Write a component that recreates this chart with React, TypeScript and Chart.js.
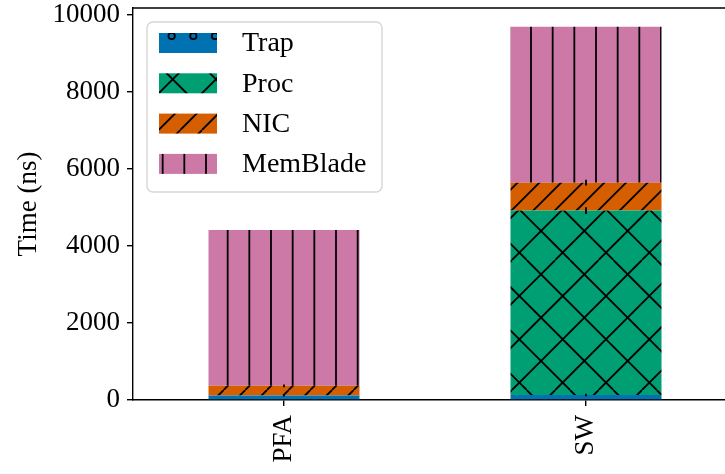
import React, { useEffect, useRef } from "react";
import { Chart, registerables } from "chart.js";

Chart.register(...registerables);

// ---- data ----
const categories = ["PFA", "SW"];
const seriesNames = ["Trap", "Proc", "NIC", "MemBlade"];
const trapValues = [120, 130];
const procValues = [0, 4790];
const nicValues = [250, 725];
const memBladeValues = [4046, 4052];
const trapErrors = [10, 10];
const procErrors = [0, 65];
const nicErrors = [15, 55];
const memBladeErrors = [0, 0];
const yTickValues = [0, 2000, 4000, 6000, 8000, 10000];
const yAxisTitle = "Time (ns)";

const seriesValues = [trapValues, procValues, nicValues, memBladeValues];
const seriesErrors = [trapErrors, procErrors, nicErrors, memBladeErrors];
const seriesColors = ["#0072B2", "#009E73", "#D55E00", "#CC79A7"];
const seriesHatches = ["o", "x", "/", "|"];

const FONT = "'Liberation Serif', 'DejaVu Serif', serif";
const TILE = 130;
const P = TILE / 6;

function makePattern(ctx: CanvasRenderingContext2D, color: string, kind: string) {
  const c = document.createElement("canvas");
  c.width = TILE;
  c.height = TILE;
  const g = c.getContext("2d")!;
  g.fillStyle = color;
  g.fillRect(0, 0, TILE, TILE);
  g.strokeStyle = "#000";
  g.lineWidth = 1.8;
  g.beginPath();
  if (kind === "|") {
    for (let k = -1; k <= 6; k++) {
      const x = 11 + k * P;
      g.moveTo(x, 0);
      g.lineTo(x, TILE);
    }
  } else if (kind === "/") {
    for (let k = -3; k <= 15; k++) {
      const cc = 7 + k * P;
      g.moveTo(cc, 0);
      g.lineTo(cc - TILE, TILE);
    }
  } else if (kind === "x") {
    for (let k = -3; k <= 8; k++) {
      const cc = 35.3 + k * 2 * P;
      g.moveTo(cc, 0);
      g.lineTo(cc - TILE, TILE);
    }
    for (let k = -6; k <= 5; k++) {
      const cc = 6.7 + k * 2 * P;
      g.moveTo(cc, 0);
      g.lineTo(cc + TILE, TILE);
    }
  }
  g.stroke();
  if (kind === "o") {
    for (let r = -2; r <= 6; r++) {
      const y = 36 + r * P;
      const x0 = 20 + (Math.abs(r) % 2 === 1 ? P / 2 : 0);
      for (let k = -2; k <= 7; k++) {
        const x = x0 + k * P;
        g.beginPath();
        g.arc(x, y, 3.2, 0, Math.PI * 2);
        g.stroke();
      }
    }
  }
  return ctx.createPattern(c, "repeat")!;
}

export default function App() {
  const ref = useRef<HTMLCanvasElement | null>(null);

  useEffect(() => {
    const canvas = ref.current!;
    const ctx = canvas.getContext("2d")!;
    const patterns = seriesColors.map((col, i) => makePattern(ctx, col, seriesHatches[i]));

    const extras = {
      id: "extras",
      afterDatasetsDraw(chart: any) {
        const c = chart.ctx;
        const y = chart.scales.y;
        c.save();
        c.strokeStyle = "#000";
        c.lineWidth = 1.8;
        for (let j = 0; j < categories.length; j++) {
          let cum = 0;
          for (let i = 0; i < seriesNames.length; i++) {
            cum += seriesValues[i][j];
            const e = seriesErrors[i][j];
            if (e <= 0) continue;
            const meta = chart.getDatasetMeta(i);
            const x = meta.data[j].x;
            c.beginPath();
            c.moveTo(x, y.getPixelForValue(cum - e) + 0.8);
            c.lineTo(x, y.getPixelForValue(cum + e) - 0.8);
            c.stroke();
          }
        }
        c.restore();
      },
      afterDraw(chart: any) {
        const c = chart.ctx;
        const a = chart.chartArea;
        c.save();
        // top and right spines
        c.strokeStyle = "#000";
        c.lineWidth = 1.4;
        c.beginPath();
        c.moveTo(a.left, a.top);
        c.lineTo(a.right, a.top);
        c.lineTo(a.right, a.bottom);
        c.stroke();
        // y title
        c.fillStyle = "#000";
        c.font = `27px ${FONT}`;
        c.textAlign = "center";
        c.textBaseline = "middle";
        c.translate(29, (a.top + a.bottom) / 2);
        c.rotate(-Math.PI / 2);
        c.fillText(yAxisTitle, 0, 0);
        c.restore();

        // legend
        c.save();
        const lx = 147, ly = 22, lw = 235, lh = 170, rad = 6;
        c.beginPath();
        c.moveTo(lx + rad, ly);
        c.arcTo(lx + lw, ly, lx + lw, ly + lh, rad);
        c.arcTo(lx + lw, ly + lh, lx, ly + lh, rad);
        c.arcTo(lx, ly + lh, lx, ly, rad);
        c.arcTo(lx, ly, lx + lw, ly, rad);
        c.closePath();
        c.fillStyle = "rgba(255,255,255,0.8)";
        c.fill();
        c.strokeStyle = "rgba(204,204,204,0.8)";
        c.lineWidth = 1.4;
        c.stroke();
        c.font = `28px ${FONT}`;
        c.textAlign = "left";
        c.textBaseline = "middle";
        for (let i = 0; i < seriesNames.length; i++) {
          const cy = 43 + i * 40.3;
          c.fillStyle = patterns[i];
          c.fillRect(159, cy - 10, 58, 20);
          c.fillStyle = "#000";
          c.fillText(seriesNames[i], 242, cy + 1);
        }
        c.restore();
      },
    };

    const axisFont = { family: FONT, size: 27 };
    const chart = new Chart(ctx, {
      type: "bar",
      data: {
        labels: categories,
        datasets: seriesNames.map((name, i) => ({
          label: name,
          data: seriesValues[i],
          backgroundColor: patterns[i],
          borderWidth: 0,
          barPercentage: 0.5,
          categoryPercentage: 1,
        })),
      },
      options: {
        responsive: false,
        animation: false,
        layout: { padding: { left: 0, right: 23, top: 8, bottom: 0 } },
        plugins: { legend: { display: false }, tooltip: { enabled: false } },
        scales: {
          x: {
            stacked: true,
            grid: { offset: false, drawOnChartArea: false, drawTicks: true, tickLength: 6, color: "#000", lineWidth: 1.4 },
            border: { display: true, color: "#000", width: 1.4 },
            ticks: { color: "#000", font: axisFont, minRotation: 90, maxRotation: 90, padding: 9 },
            afterFit: (s: any) => {
              s.height = 74;
              s.paddingLeft = 0;
              s.paddingRight = 0;
            },
          },
          y: {
            stacked: true,
            min: 0,
            max: 10182,
            afterBuildTicks: (s: any) => {
              s.ticks = yTickValues.map((v) => ({ value: v }));
            },
            grid: { drawOnChartArea: false, drawTicks: true, tickLength: 6, color: "#000", lineWidth: 1.4 },
            border: { display: true, color: "#000", width: 1.4 },
            ticks: { color: "#000", font: axisFont, padding: 7, callback: (v: any) => String(v) },
            afterFit: (s: any) => {
              s.width = 133;
              s.paddingTop = 0;
              s.paddingBottom = 0;
            },
          },
        },
      },
      plugins: [extras],
    });
    return () => chart.destroy();
  }, []);

  return (
    <div style={{ position: "fixed", left: 0, top: 0, width: 725, height: 474, overflow: "hidden", background: "#fff" }}>
      <canvas ref={ref} width={760} height={474} style={{ display: "block", width: 760, height: 474 }} />
    </div>
  );
}
